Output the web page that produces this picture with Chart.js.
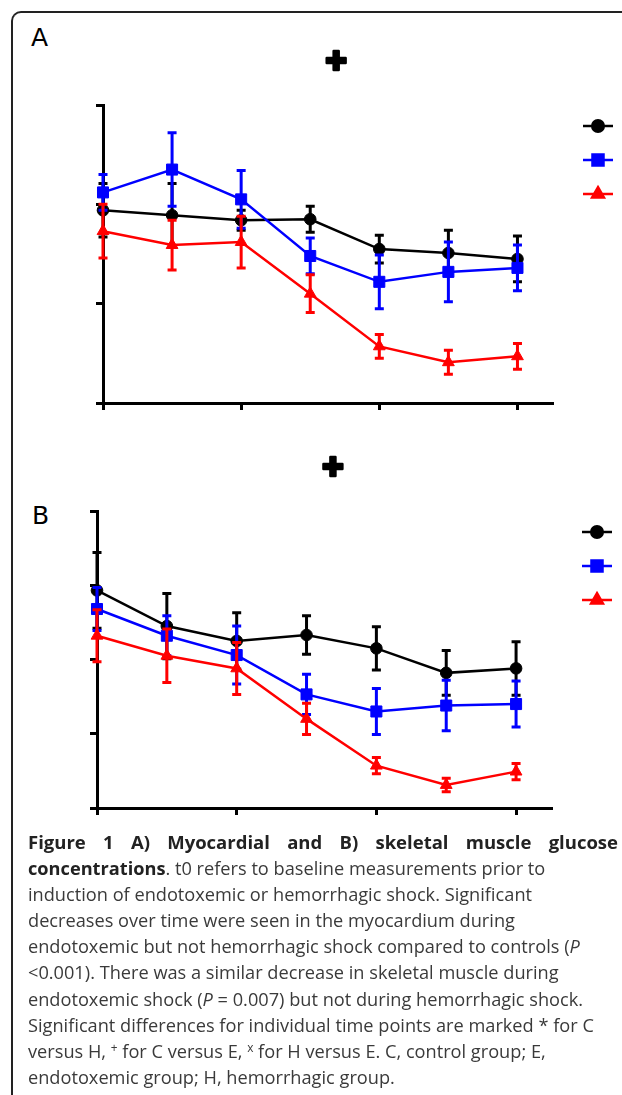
<!DOCTYPE html>
<html>
<head>
<meta charset="utf-8">
<script src="https://cdn.jsdelivr.net/npm/chart.js@4"></script>
<style>
  body { margin: 0; background: #fff; width: 622px; height: 1095px; overflow: hidden; position: relative; font-family: "Open Sans", sans-serif; }
  #frame { position: absolute; left: 11px; top: 11px; width: 700px; height: 1200px; border-left: 2px solid #222; border-top: 2px solid #222; border-top-left-radius: 10px; }
  canvas { position: absolute; left: 0; }
  .lbl { position: absolute; font-family: "DejaVu Sans", sans-serif; font-size: 25px; color: #000; line-height: 1; }
  #cap { position: absolute; left: 28px; top: 829px; width: 590px; font-size: 18.2px; line-height: 26.1px; color: #3a3a3a; }
  #cap div { white-space: nowrap; height: 26.1px; }
  #cap .first { text-align: justify; text-align-last: justify; font-weight: bold; color: #222; font-size: 18.5px; }
  #cap b { color: #222; }
  #cap sup { font-size: 0.65em; line-height: 0; vertical-align: 0.55em; }
</style>
</head>
<body>
<div id="frame"></div>
<div class="lbl" style="left:31px; top:25px;">A</div>
<div class="lbl" style="left:32px; top:503px;">B</div>
<canvas id="chartA" width="622" height="430" style="top:0px;"></canvas>
<canvas id="chartB" width="622" height="390" style="top:440px;"></canvas>
<div id="cap">
  <div class="first">Figure 1 A) Myocardial and B) skeletal muscle glucose</div>
  <div><b>concentrations</b>. t0 refers to baseline measurements prior to</div>
  <div>induction of endotoxemic or hemorrhagic shock. Significant</div>
  <div>decreases over time were seen in the myocardium during</div>
  <div>endotoxemic but not hemorrhagic shock compared to controls (<i>P</i></div>
  <div>&lt;0.001). There was a similar decrease in skeletal muscle during</div>
  <div>endotoxemic shock (<i>P</i> = 0.007) but not during hemorrhagic shock.</div>
  <div>Significant differences for individual time points are marked * for C</div>
  <div>versus H, <sup>+</sup> for C versus E, <sup>x</sup> for H versus E. C, control group; E,</div>
  <div>endotoxemic group; H, hemorrhagic group.</div>
</div>
<script>
// time points t0..t6
var timePoints = [0, 1, 2, 3, 4, 5, 6];
var xTicks = [0, 2, 4, 6];
var yTicksA = [0, 1, 2, 3];
var yTicksB = [0, 1, 2, 3, 4];
var sigX = 3.38; // "+" marker, C versus E

// A) myocardium
var controlA    = [1.94, 1.89, 1.84, 1.85, 1.55, 1.51, 1.45];
var controlAErr = [0.27, 0.32, 0.10, 0.13, 0.14, 0.23, 0.23];
var endoA       = [2.12, 2.35, 2.05, 1.48, 1.22, 1.32, 1.36];
var endoAErr    = [0.18, 0.37, 0.29, 0.18, 0.27, 0.30, 0.23];
var hemoA       = [1.73, 1.59, 1.62, 1.10, 0.57, 0.41, 0.47];
var hemoAErr    = [0.27, 0.25, 0.26, 0.19, 0.12, 0.12, 0.13];

// B) skeletal muscle
var controlB    = [2.93, 2.45, 2.25, 2.33, 2.15, 1.82, 1.88];
var controlBErr = [0.51, 0.44, 0.38, 0.26, 0.29, 0.30, 0.36];
var endoB       = [2.68, 2.32, 2.06, 1.53, 1.30, 1.38, 1.40];
var endoBErr    = [0.29, 0.27, 0.39, 0.27, 0.31, 0.34, 0.31];
var hemoB       = [2.32, 2.05, 1.88, 1.20, 0.57, 0.31, 0.49];
var hemoBErr    = [0.35, 0.36, 0.35, 0.21, 0.11, 0.09, 0.11];

function pts(vals) {
    return vals.map(function (v, i) { return { x: timePoints[i], y: v }; });
}

var errorBars = {
    id: 'errorBars',
    beforeDatasetDraw: function (chart, args) {
        var ds = chart.data.datasets[args.index];
        var xs = chart.scales.x, ys = chart.scales.y, ctx = chart.ctx;
        ctx.save();
        ctx.strokeStyle = ds.borderColor;
        ctx.lineWidth = 3;
        ds.errors.forEach(function (e, i) {
            var px = xs.getPixelForValue(ds.data[i].x);
            var top = ys.getPixelForValue(ds.data[i].y + e);
            var bot = ys.getPixelForValue(ds.data[i].y - e);
            ctx.beginPath();
            ctx.moveTo(px, top); ctx.lineTo(px, bot);
            ctx.moveTo(px - 4.5, top); ctx.lineTo(px + 4.5, top);
            ctx.moveTo(px - 4.5, bot); ctx.lineTo(px + 4.5, bot);
            ctx.stroke();
        });
        ctx.restore();
    }
};

var sideLegend = {
    id: 'sideLegend',
    afterDraw: function (chart) {
        var ctx = chart.ctx, area = chart.chartArea;
        chart.data.datasets.forEach(function (ds, i) {
            var x0 = area.right + 31, y0 = area.top + 21 + i * 34;
            ctx.save();
            ctx.strokeStyle = ds.borderColor;
            ctx.fillStyle = ds.borderColor;
            ctx.lineWidth = 2.5;
            ctx.beginPath();
            ctx.moveTo(x0, y0); ctx.lineTo(x0 + 30, y0);
            ctx.stroke();
            Chart.helpers.drawPoint(ctx, { pointStyle: ds.pointStyle, radius: ds.pointRadius, borderWidth: 1, rotation: 0 }, x0 + 15, y0);
            ctx.restore();
        });
    }
};

var sigMark = {
    id: 'sigMark',
    afterDraw: function (chart) {
        var ctx = chart.ctx;
        var x = chart.scales.x.getPixelForValue(sigX), y = chart.chartArea.top - 42;
        ctx.save();
        ctx.fillStyle = '#000';
        ctx.strokeStyle = '#000';
        ctx.lineWidth = 2.5;
        ctx.lineJoin = 'round';
        ctx.font = 'bold 26px "DejaVu Sans"';
        ctx.textAlign = 'center';
        ctx.textBaseline = 'middle';
        ctx.fillText('\u271A', x, y);
        ctx.strokeText('\u271A', x, y);
        ctx.restore();
    }
};

function axis(ticks, max) {
    return {
        type: 'linear',
        min: 0,
        max: max,
        afterBuildTicks: function (scale) {
            scale.ticks = ticks.map(function (v) { return { value: v }; });
        },
        ticks: { display: false },
        grid: { drawOnChartArea: false, drawTicks: true, tickLength: 7, color: '#000', lineWidth: 3 },
        border: { display: true, color: '#000', width: 3 }
    };
}

function makeChart(id, ctl, ctlErr, endo, endoErr, hemo, hemoErr, yTicks, yMax, pad) {
    var common = { showLine: true, tension: 0, borderWidth: 2.5, pointBorderWidth: 1, clip: false };
    new Chart(document.getElementById(id), {
        type: 'scatter',
        data: {
            datasets: [
                Object.assign({ label: 'Control', data: pts(ctl), errors: ctlErr, borderColor: '#000000', backgroundColor: '#000000', pointStyle: 'circle', pointRadius: 5.8, order: 3 }, common),
                Object.assign({ label: 'Endotoxemic', data: pts(endo), errors: endoErr, borderColor: '#0000ff', backgroundColor: '#0000ff', pointStyle: 'rect', pointRadius: 7.8, order: 2 }, common),
                Object.assign({ label: 'Hemorrhagic', data: pts(hemo), errors: hemoErr, borderColor: '#ff0000', backgroundColor: '#ff0000', pointStyle: 'triangle', pointRadius: 6.8, order: 1 }, common)
            ]
        },
        options: {
            responsive: false,
            animation: false,
            layout: { padding: pad },
            plugins: { legend: { display: false }, tooltip: { enabled: false } },
            scales: {
                x: axis(xTicks, 6.5),
                y: axis(yTicks, yMax)
            }
        },
        plugins: [errorBars, sideLegend, sigMark]
    });
}

window.onload = function () {
    makeChart('chartA', controlA, controlAErr, endoA, endoAErr, hemoA, hemoAErr, yTicksA, 3,
        { left: 96, top: 105, right: 70, bottom: 20 });
    makeChart('chartB', controlB, controlBErr, endoB, endoBErr, hemoB, hemoBErr, yTicksB, 4,
        { left: 90, top: 71, right: 71, bottom: 15 });
};
</script>
</body>
</html>
